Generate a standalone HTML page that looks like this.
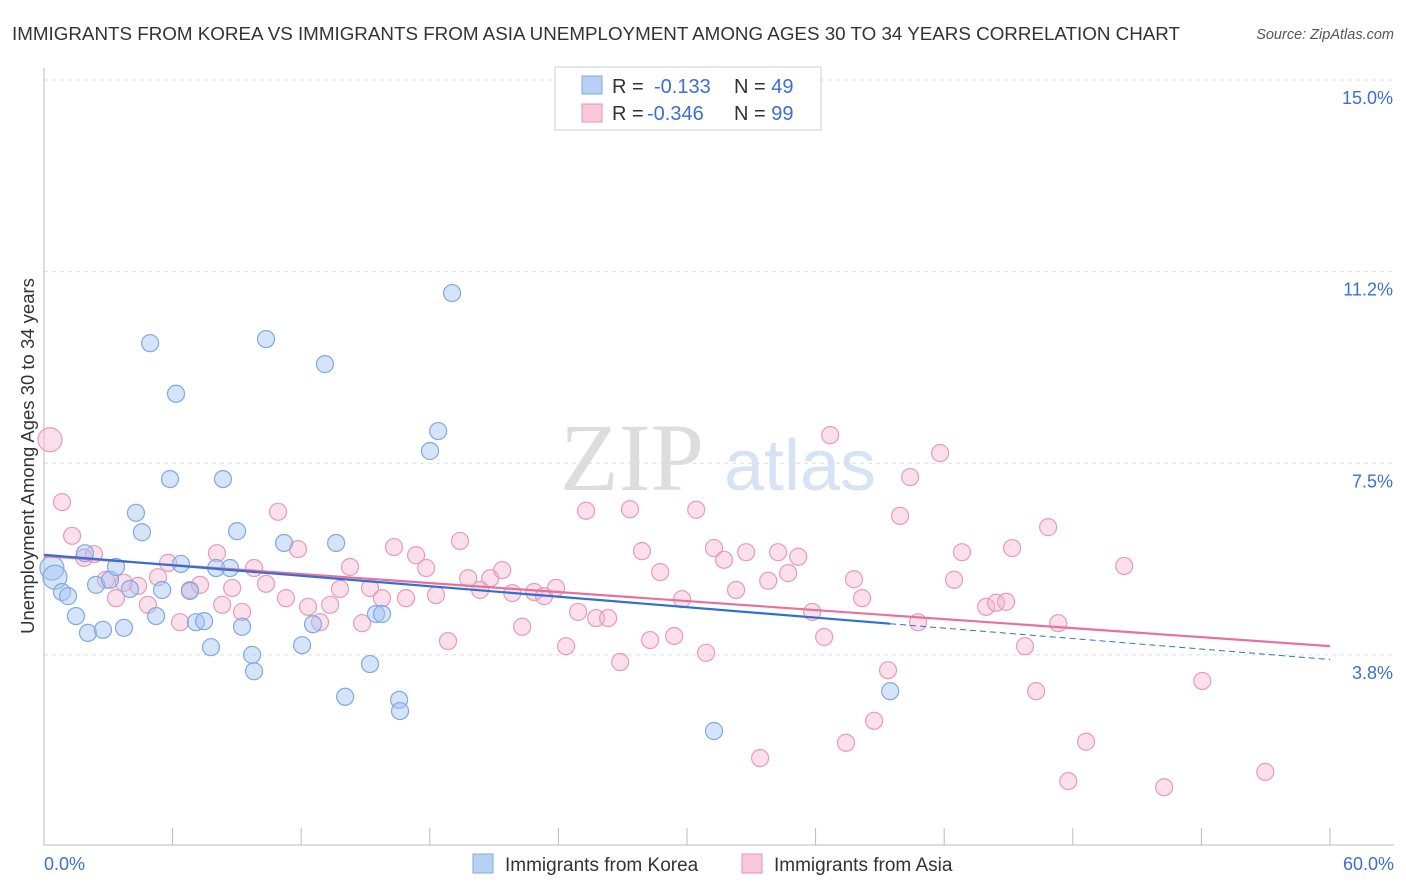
<!DOCTYPE html>
<html><head><meta charset="utf-8"><style>
body{margin:0;background:#fff;font-family:"Liberation Sans",sans-serif;}
svg{display:block}
</style></head><body>
<svg id="chart" width="1406" height="892" xmlns="http://www.w3.org/2000/svg">
<text x="12" y="40" font-size="18.8" fill="#333" textLength="1168" lengthAdjust="spacingAndGlyphs">IMMIGRANTS FROM KOREA VS IMMIGRANTS FROM ASIA UNEMPLOYMENT AMONG AGES 30 TO 34 YEARS CORRELATION CHART</text>
<text x="1394" y="39" font-size="14.5" fill="#555" font-style="italic" text-anchor="end">Source: ZipAtlas.com</text>
<g><text x="632" y="490" font-size="96" fill="#ddd" font-family="Liberation Serif,serif" text-anchor="middle">ZIP</text><text x="800" y="490" font-size="72" fill="#d6e3f5" text-anchor="middle">atlas</text></g>
<g id="grid"></g>
<g id="axes"></g>
<g id="pts-asia"></g>
<g id="pts-korea"></g>
<g id="lines"></g>
<text transform="translate(34,456) rotate(-90)" font-size="18.5" fill="#333" text-anchor="middle">Unemployment Among Ages 30 to 34 years</text>
<g>
<rect x="555" y="67" width="266" height="63" fill="#fff" stroke="#ccc"/>
<rect x="582" y="76" width="20" height="18" fill="#b9d0f5" stroke="#7ea8e6"/>
<rect x="582" y="104" width="20" height="18" fill="#f9c9da" stroke="#e890b0"/>
<text x="612" y="93" font-size="20" fill="#333">R = <tspan x="654" fill="#3b6fd4">-0.133</tspan><tspan x="734">N = </tspan><tspan fill="#3b6fd4">49</tspan></text>
<text x="612" y="120" font-size="20" fill="#333">R = <tspan x="647" fill="#3b6fd4">-0.346</tspan><tspan x="734">N = </tspan><tspan fill="#3b6fd4">99</tspan></text>
</g>
<g>
<rect x="473" y="854" width="20" height="19" fill="#b9d0f5" stroke="#7ea8e6"/>
<text x="505" y="871" font-size="19" fill="#333">Immigrants from Korea</text>
<rect x="742" y="854" width="20" height="19" fill="#f9c9da" stroke="#e890b0"/>
<text x="774" y="871" font-size="19" fill="#333">Immigrants from Asia</text>
</g>
</svg>
<script>
const yTicks=[3.75,7.5,11.25,15];
const yTickLabels=["3.8%","7.5%","11.2%","15.0%"];
const xTicks=[0,6,12,18,24,30,36,42,48,54,60];
const xLabels=["0.0%","60.0%"];
const koreaX=[0.37,0.51,0.84,1.12,1.49,1.91,2.05,2.43,2.75,3.08,3.36,3.73,4.01,4.29,4.57,4.95,5.23,5.51,5.88,6.16,6.39,6.81,7.09,7.47,7.79,8.03,8.35,8.68,9.01,9.24,9.71,9.80,10.36,11.20,12.04,12.55,13.11,13.63,14.05,15.21,15.49,15.77,16.57,16.61,18.01,18.39,19.04,31.26,39.48];
const koreaY=[5.45,5.27,4.98,4.90,4.51,5.74,4.18,5.12,4.24,5.22,5.47,4.28,5.04,6.53,6.15,9.85,4.51,5.02,7.19,8.86,5.53,5.00,4.39,4.41,3.90,5.45,7.19,5.45,6.17,4.30,3.75,3.43,9.93,5.94,3.94,4.35,9.44,5.94,2.93,3.57,4.55,4.55,2.87,2.65,7.74,8.13,10.83,2.26,3.04];
const asiaX=[0.28,0.84,1.31,1.87,2.33,2.89,3.36,3.73,4.39,4.85,5.32,5.79,6.35,6.81,7.28,8.07,8.31,8.78,9.24,9.80,10.36,10.92,11.29,11.85,12.32,12.88,13.35,13.81,14.28,14.84,15.21,15.77,16.33,16.89,17.36,17.83,18.29,18.85,19.41,19.79,20.35,20.82,21.38,21.85,22.31,22.87,23.33,23.89,24.36,24.92,25.29,25.76,26.32,26.88,27.34,27.90,28.28,28.75,29.40,29.77,30.43,30.89,31.26,31.73,32.29,32.76,33.41,33.79,34.25,34.72,35.19,35.84,36.40,36.68,37.42,37.79,38.17,38.73,39.38,39.94,40.41,40.78,41.81,42.46,42.83,43.96,44.42,44.89,45.17,45.77,46.29,46.85,47.32,47.79,48.62,50.40,52.26,54.04,56.98];
const asiaY=[7.96,6.74,6.08,5.65,5.72,5.22,4.86,5.16,5.10,4.73,5.27,5.55,4.39,5.02,5.12,5.74,4.73,5.06,4.59,5.45,5.14,6.55,4.86,5.82,4.69,4.39,4.73,5.04,5.47,4.37,5.06,4.86,5.86,4.86,5.70,5.45,4.92,4.02,5.98,5.25,5.02,5.25,5.41,4.96,4.30,4.98,4.90,5.06,3.92,4.59,6.57,4.47,4.47,3.61,6.60,5.78,4.04,5.37,4.12,4.84,6.59,3.79,5.84,5.61,5.02,5.76,1.73,5.20,5.76,5.35,5.67,4.59,4.10,8.05,2.03,5.23,4.86,2.46,3.45,6.47,7.23,4.39,7.70,5.22,5.76,4.69,4.77,4.79,5.84,3.92,3.04,6.25,4.37,1.28,2.05,5.49,1.16,3.24,1.46];
const NS="http://www.w3.org/2000/svg";
const X=v=>44+v*21.433, Y=v=>80+(15-v)*51.1;
function mk(t,a,p){const e=document.createElementNS(NS,t);for(const k in a)e.setAttribute(k,a[k]);if(p)p.appendChild(e);return e;}
const grid=document.getElementById('grid'),axes=document.getElementById('axes');
yTicks.forEach((v,i)=>{
 const l=mk('line',{x1:44,x2:1394,y1:Y(v),y2:Y(v),stroke:'#ddd','stroke-dasharray':'4,4'},grid);
 
 
 const t=mk('text',{x:1393,y:Y(v)+24,'font-size':18,fill:'#3b6fd4','text-anchor':'end'},axes);
 t.textContent=yTickLabels[i];
 
 
});
mk('line',{x1:44,x2:44,y1:68,y2:845,stroke:'#bbb'},axes);
mk('line',{x1:44,x2:1394,y1:845,y2:845,stroke:'#bbb'},axes);
xTicks.forEach(v=>{const l=mk('line',{x1:X(v),x2:X(v),y1:828,y2:845,stroke:'#bbb'},axes);
 
 });
[[0,'start',44],[60,'end',1394]].forEach((d,i)=>{const t=mk('text',{x:d[2],y:870,'font-size':18,fill:'#3b6fd4','text-anchor':d[1]},axes);t.textContent=xLabels[i];
 
 });
function pts(xs,ys,g,fill,stroke,name){xs.forEach((x,i)=>{const r=(x<0.6)?12:8.5;
 const c=mk('circle',{cx:X(x),cy:Y(ys[i]),r:r,fill:fill,stroke:stroke,'stroke-width':1.2},g);
 
 });}
pts(asiaX,asiaY,document.getElementById('pts-asia'),'rgba(246,176,202,0.4)','#e99ab7','asia-point');
pts(koreaX,koreaY,document.getElementById('pts-korea'),'rgba(164,196,244,0.45)','#7ea8e6','korea-point');
function reg(xs,ys){const n=xs.length;let mx=0,my=0;for(let i=0;i<n;i++){mx+=xs[i];my+=ys[i];}mx/=n;my/=n;let sxy=0,sxx=0;for(let i=0;i<n;i++){sxy+=(xs[i]-mx)*(ys[i]-my);sxx+=(xs[i]-mx)**2;}const b=sxy/sxx;return [my-b*mx,b];}
const lg=document.getElementById('lines');
const [ka,kb]=reg(koreaX,koreaY),[aa,ab]=reg(asiaX,asiaY);
const kmax=Math.max(...koreaX);
let l=mk('line',{x1:X(0),y1:Y(aa),x2:X(60),y2:Y(aa+ab*60),stroke:'#e8719a','stroke-width':2.2},lg);


l=mk('line',{x1:X(0),y1:Y(ka),x2:X(kmax),y2:Y(ka+kb*kmax),stroke:'#2f6fd6','stroke-width':2.2},lg);


l=mk('line',{x1:X(kmax),y1:Y(ka+kb*kmax),x2:X(60),y2:Y(ka+kb*60),stroke:'#2f6fd6','stroke-width':1,'stroke-dasharray':'6,4'},lg);


</script>
</body></html>
